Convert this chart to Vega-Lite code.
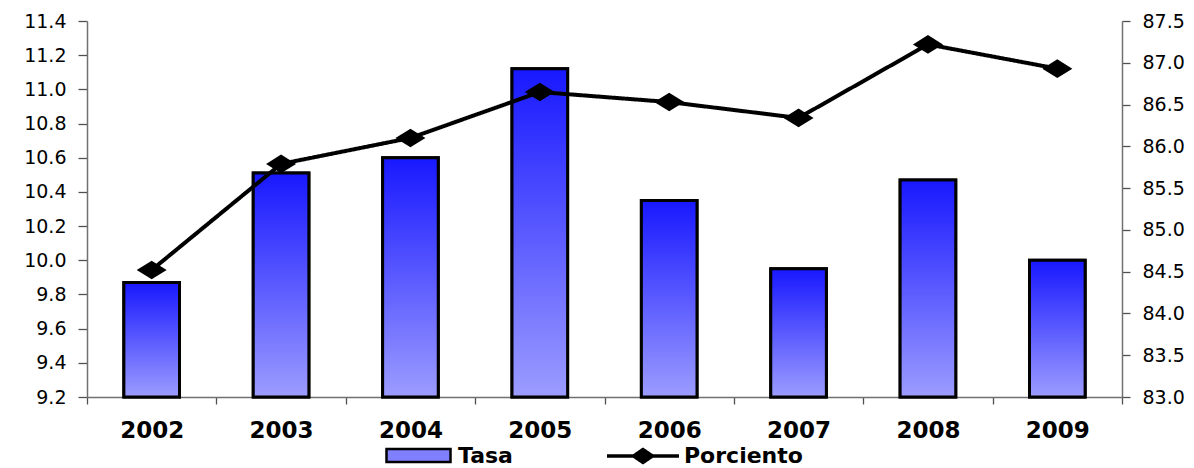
{
  "$schema": "https://vega.github.io/schema/vega-lite/v6.json",
  "width": 1035,
  "height": 376,
  "autosize": "none",
  "padding": {"left": 87, "top": 21, "right": 72, "bottom": 71},
  "background": "white",
  "config": {
    "view": {"stroke": null},
    "font": "DejaVu Sans",
    "axis": {"grid": false, "domainColor": "#707070", "tickColor": "#505050", "domainWidth": 1.5, "tickWidth": 1.3, "labelColor": "black", "labelFont": "DejaVu Sans", "titleColor": "black"}
  },
  "data": {
    "values": [
      {"year": "2002", "tasa": 9.87, "porciento": 84.52},
      {"year": "2003", "tasa": 10.51, "porciento": 85.79},
      {"year": "2004", "tasa": 10.6, "porciento": 86.1},
      {"year": "2005", "tasa": 11.12, "porciento": 86.65},
      {"year": "2006", "tasa": 10.35, "porciento": 86.53},
      {"year": "2007", "tasa": 9.95, "porciento": 86.34},
      {"year": "2008", "tasa": 10.47, "porciento": 87.22},
      {"year": "2009", "tasa": 10.0, "porciento": 86.93}
    ]
  },
  "encoding": {
    "x": {
      "field": "year", "type": "ordinal", "title": null,
      "scale": {"paddingInner": 0, "paddingOuter": 0},
      "axis": {"tickBand": "extent", "labelAngle": 0, "labelFontSize": 23, "labelFontWeight": "bold", "tickSize": 7, "labelPadding": 15, "domainColor": "#707070"}
    }
  },
  "layer": [
    {
      "encoding": {
        "y": {"field": "tasa", "type": "quantitative", "title": null,
          "scale": {"domain": [9.2, 11.4], "zero": false, "nice": false},
          "axis": {"values": [9.2, 9.4, 9.6, 9.8, 10.0, 10.2, 10.4, 10.6, 10.8, 11.0, 11.2, 11.4], "format": ".1f", "labelFontSize": 19, "tickSize": 9, "labelPadding": 12, "orient": "left"}},
        "y2": {"datum": 9.2}
      },
      "layer": [
        {
          "mark": {"type": "bar", "width": {"band": 0.43}, "stroke": "black", "strokeWidth": 3},
          "encoding": {
            "color": {"datum": "Tasa", "type": "nominal",
              "scale": {"domain": ["Tasa"], "range": ["#8080ff"]},
              "legend": {
                "title": null, "orient": "none", "legendX": 298, "legendY": 401,
                "symbolType": "M-1,-0.2H1V0.2H-1Z", "symbolSize": 4096,
                "symbolStrokeColor": "black", "symbolStrokeWidth": 2.5,
                "labelFontSize": 22, "labelFontWeight": "bold", "labelColor": "black", "labelOffset": 6, "labelLimit": 300
              }
            }
          }
        },
        {
          "mark": {"type": "bar", "width": {"band": 0.43}, "stroke": "black", "strokeWidth": 3,
            "fill": {"gradient": "linear", "x1": 0, "y1": 0, "x2": 0, "y2": 1,
              "stops": [{"offset": 0, "color": "#1818ff"}, {"offset": 1, "color": "#9c9cff"}]}}
        }
      ]
    },
    {
      "encoding": {
        "y": {"field": "porciento", "type": "quantitative", "title": null,
          "scale": {"domain": [83, 87.5], "zero": false, "nice": false},
          "axis": {"orient": "right", "values": [83, 83.5, 84, 84.5, 85, 85.5, 86, 86.5, 87, 87.5], "format": ".1f", "labelFontSize": 19, "tickSize": 8, "labelPadding": 12}}
      },
      "layer": [
        {
          "mark": {"type": "line", "strokeWidth": 4, "color": "black"},
          "encoding": {
            "strokeDash": {"datum": "Porciento", "type": "nominal",
              "scale": {"domain": ["Porciento"], "range": [[1, 0]]},
              "legend": {
                "title": null, "orient": "none", "legendX": 518, "legendY": 397,
                "symbolType": "M-1,0H1M-0.26,0L0,-0.18L0.26,0L0,0.18Z", "symbolSize": 5184,
                "symbolFillColor": "black", "symbolStrokeColor": "black", "symbolStrokeWidth": 3.5,
                "labelFontSize": 22, "labelFontWeight": "bold", "labelColor": "black", "labelOffset": 3, "labelLimit": 300
              }
            }
          }
        },
        {
          "mark": {"type": "point", "filled": true, "color": "black", "opacity": 1, "size": 900,
            "shape": "M-1,0L0,-0.62L1,0L0,0.62Z"}
        }
      ]
    }
  ],
  "resolve": {"scale": {"y": "independent"}}
}
